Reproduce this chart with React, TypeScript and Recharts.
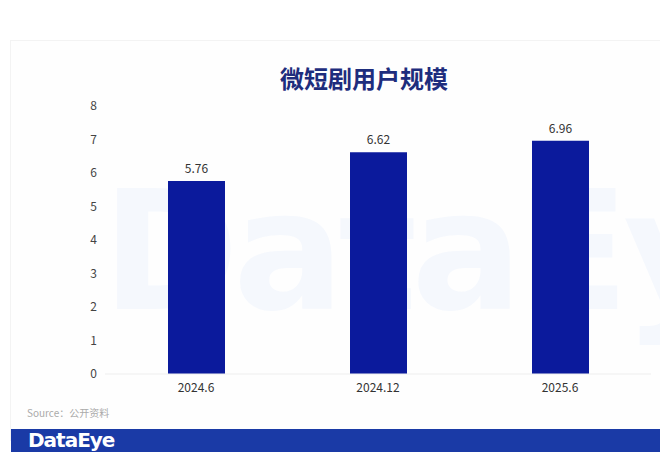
import { Bar, BarChart, LabelList, XAxis, YAxis } from "recharts";

const PERIODS = ["2024.6", "2024.12", "2025.6"];
const USERS = [5.76, 6.62, 6.96];
const Y_TICKS = [0, 1, 2, 3, 4, 5, 6, 7, 8];

const FONT = '"Noto Sans CJK SC", "Open Sans", "Noto Sans", sans-serif';

export default function App() {
  const data = PERIODS.map((period, i) => ({ period, users: USERS[i] }));

  return (
    <div
      style={{
        position: "absolute",
        left: 0,
        top: 0,
        width: 660,
        height: 462,
        background: "#fff",
        overflow: "hidden",
        fontFamily: FONT,
      }}
    >
      {/* card */}
      <div
        style={{
          position: "absolute",
          left: 10,
          top: 40,
          width: 660,
          height: 400,
          borderTop: "1px solid #f3f3f3",
          borderLeft: "1px solid #f3f3f3",
          background: "#fefefe",
        }}
      />
      {/* faint watermark behind the plot */}
      <div
        style={{
          position: "absolute",
          left: 102,
          top: 170,
          fontSize: 165,
          fontWeight: 700,
          color: "#f5f8fd",
          fontFamily: '"DejaVu Sans", sans-serif',
          letterSpacing: -6,
          lineHeight: 1,
          whiteSpace: "nowrap",
        }}
      >
        DataEye
      </div>
      <div
        style={{
          position: "absolute",
          left: 0,
          width: 728,
          top: 61,
          textAlign: "center",
          fontSize: 24,
          fontWeight: 700,
          color: "#1e2d7d",
          lineHeight: "34px",
        }}
      >
        微短剧用户规模
      </div>
      <div style={{ position: "absolute", left: 0, top: 0 }}>
        <BarChart
          width={660}
          height={462}
          data={data}
          margin={{ top: 106, right: 9, left: 0, bottom: 58 }}
        >
          <XAxis
            dataKey="period"
            tickLine={false}
            axisLine={{ stroke: "#eeeeee" }}
            tick={{ fill: "#333", fontSize: 12 }}
            tickMargin={3}
            height={30}
          />
          <YAxis
            width={105}
            domain={[0, 8]}
            ticks={Y_TICKS}
            tickLine={false}
            axisLine={false}
            tick={{ fill: "#444", fontSize: 12 }}
            tickMargin={2}
            interval={0}
          />
          <Bar dataKey="users" fill="#0b1a9c" barSize={57} isAnimationActive={false}>
            <LabelList dataKey="users" position="top" offset={8} fill="#333" fontSize={12} />
          </Bar>
        </BarChart>
      </div>
      <div
        style={{
          position: "absolute",
          left: 27,
          top: 405,
          fontSize: 10,
          color: "#aaa",
        }}
      >
        Source：公开资料
      </div>
      <div
        style={{
          position: "absolute",
          left: 11,
          top: 429,
          width: 660,
          height: 23,
          background: "#1a3aa6",
        }}
      >
        <span
          style={{
            position: "absolute",
            left: 17,
            top: -1,
            color: "#fff",
            fontSize: 20,
            fontWeight: 700,
            fontFamily: '"DejaVu Sans", sans-serif',
            letterSpacing: -1,
          }}
        >
          DataEye
        </span>
      </div>
    </div>
  );
}
